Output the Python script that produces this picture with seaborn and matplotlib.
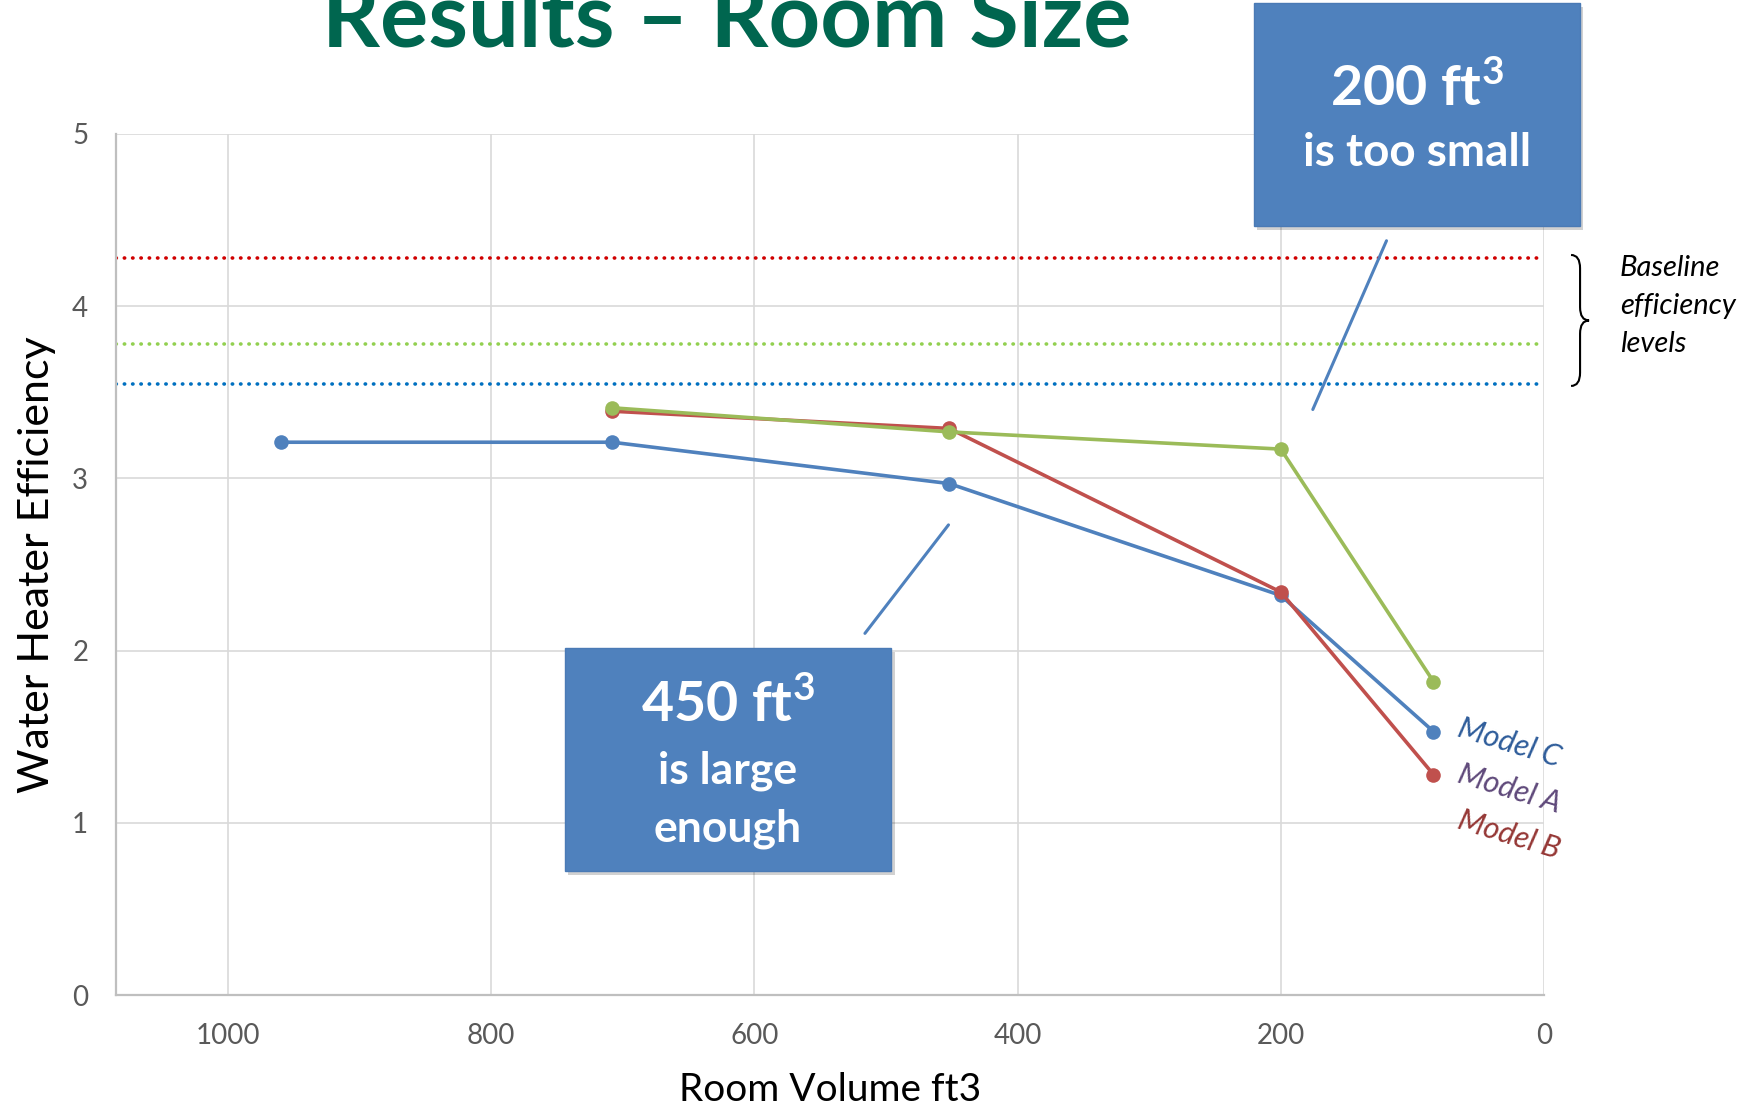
import numpy as np
import pandas as pd
import seaborn as sns
import matplotlib
matplotlib.use("Agg")
import matplotlib.pyplot as plt
from matplotlib.patches import FancyBboxPatch, PathPatch
from matplotlib.path import Path

# ---- data -------------------------------------------------------------
model_c_volume = [960, 708, 452, 200, 84]
model_c_eff = [3.21, 3.21, 2.97, 2.32, 1.53]

model_b_volume = [708, 452, 200, 84]
model_b_eff = [3.39, 3.29, 2.34, 1.28]

model_g_volume = [708, 452, 200, 84]
model_g_eff = [3.41, 3.27, 3.17, 1.82]

baseline_levels = [4.28, 3.78, 3.55]
baseline_colors = ["#D00000", "#92D050", "#0070C0"]

x_ticks = [1000, 800, 600, 400, 200, 0]
y_ticks = [0, 1, 2, 3, 4, 5]

series_names = ["Model C", "Model B", "Series 3"]
series_colors = ["#4F81BD", "#C0504D", "#9BBB59"]

df = pd.concat([
    pd.DataFrame({"volume": model_c_volume, "eff": model_c_eff, "series": series_names[0]}),
    pd.DataFrame({"volume": model_b_volume, "eff": model_b_eff, "series": series_names[1]}),
    pd.DataFrame({"volume": model_g_volume, "eff": model_g_eff, "series": series_names[2]}),
])

# ---- style ------------------------------------------------------------
sns.set_theme(style="white")
plt.rcParams["font.family"] = ["Lato", "DejaVu Sans"]
plt.rcParams["mathtext.fontset"] = "custom"
plt.rcParams["mathtext.rm"] = "Lato:bold"

fig = plt.figure(figsize=(17.53, 11.10), dpi=100)
ax = fig.add_axes([0.0662, 0.1036, 0.8146, 0.7757])

ax.set_xlim(1085, 0)
ax.set_ylim(0, 5)
ax.set_xticks(x_ticks)
ax.set_yticks(y_ticks)
ax.grid(True, color="#D9D9D9", linewidth=1.2)
ax.set_axisbelow(True)
for side in ["top", "right"]:
    ax.spines[side].set_visible(False)
for side in ["left", "bottom"]:
    ax.spines[side].set_color("#BFBFBF")
    ax.spines[side].set_linewidth(1.6)
ax.tick_params(axis="both", length=0, labelsize=20, labelcolor="#595959")
ax.tick_params(axis="x", pad=20)
ax.tick_params(axis="y", pad=20)

# baseline efficiency levels
for lvl, col in zip(baseline_levels, baseline_colors):
    ax.axhline(lvl, color=col, linewidth=2.6, linestyle=(0, (0.1, 2.2)),
               dash_capstyle="round", zorder=2)

sns.lineplot(data=df, x="volume", y="eff", hue="series", hue_order=series_names,
             palette=series_colors, marker="o", markersize=10.5, markeredgewidth=0,
             linewidth=2.6, legend=False, ax=ax, zorder=3)

ax.set_xlabel("Room Volume ft3", fontsize=28, color="black", va="center")
ax.set_ylabel("Water Heater Efficiency", fontsize=31, color="black", va="center")
ax.xaxis.set_label_coords(0.5, -0.110)
ax.yaxis.set_label_coords(-0.0553, 0.5)

# title
fig.text(0.4147, 0.958, "Results \u2013 Room Size", fontsize=65, fontweight="bold",
         color="#00664F", ha="center", va="baseline")

# connector lines from callouts
ax.plot([119.7, 175.7], [4.38, 3.40], color="#4F81BD", linewidth=2.2, zorder=4)
ax.plot([452.5, 516.0], [2.73, 2.10], color="#4F81BD", linewidth=2.2, zorder=4)


def callout(x0, y0, w, h):
    shadow = FancyBboxPatch((x0 + 0.002, y0 - 0.004), w, h, boxstyle="square,pad=0",
                            transform=fig.transFigure, facecolor="#000000", alpha=0.18,
                            edgecolor="none", zorder=5)
    box = FancyBboxPatch((x0, y0), w, h, boxstyle="square,pad=0",
                         transform=fig.transFigure, facecolor="#4F81BD",
                         edgecolor="#4A7AB5", linewidth=1, zorder=6)
    fig.patches.extend([shadow, box])


callout(0.7153, 0.7964, 0.186, 0.2009)
fig.text(0.8083, 0.9216, r"200 ft$^{\mathrm{3}}$", fontsize=40, fontweight="bold",
         color="white", ha="center", va="center", zorder=7)
fig.text(0.8083, 0.862, "is too small", fontsize=33, fontweight="bold", color="white",
         ha="center", va="center", zorder=7)

callout(0.3223, 0.2153, 0.186, 0.2009)
fig.text(0.4153, 0.3658, r"450 ft$^{\mathrm{3}}$", fontsize=40, fontweight="bold",
         color="white", ha="center", va="center", zorder=7)
fig.text(0.4153, 0.3054, "is large", fontsize=32, fontweight="bold", color="white",
         ha="center", va="center", zorder=7)
fig.text(0.4153, 0.2538, "enough", fontsize=32, fontweight="bold", color="white",
         ha="center", va="center", zorder=7)

# brace grouping the baseline levels
bx0, bx1 = 0.8962, 0.9065
bxm = (bx0 + bx1) / 2
top, bot = 0.7703, 0.6523
mid = (top + bot) / 2
r = 0.012
verts = [
    (bx0, top), (bxm, top), (bxm, top - r),
    (bxm, mid + r),
    (bxm, mid), (bx1, mid),
    (bxm, mid), (bxm, mid - r),
    (bxm, bot + r),
    (bxm, bot), (bx0, bot),
]
codes = [Path.MOVETO, Path.CURVE3, Path.CURVE3,
         Path.LINETO,
         Path.CURVE3, Path.CURVE3,
         Path.CURVE3, Path.CURVE3,
         Path.LINETO,
         Path.CURVE3, Path.CURVE3]
fig.patches.append(PathPatch(Path(verts, codes), transform=fig.transFigure,
                             facecolor="none", edgecolor="black", linewidth=1.5))

for yy, line in zip([0.7586, 0.7243, 0.6901], ["Baseline", "efficiency", "levels"]):
    fig.text(0.9241, yy, line, fontsize=21, fontstyle="italic", color="black",
             ha="left", va="center")

# series labels
for yy, name, col in zip([0.3306, 0.2892, 0.2477],
                         ["Model C", "Model A", "Model B"],
                         ["#2E5C9A", "#5F497A", "#953735"]):
    fig.text(0.8608, yy, name, fontsize=22, fontstyle="italic", color=col,
             ha="center", va="center", rotation=-17, rotation_mode="anchor")

fig.savefig("out.png", dpi=100)
